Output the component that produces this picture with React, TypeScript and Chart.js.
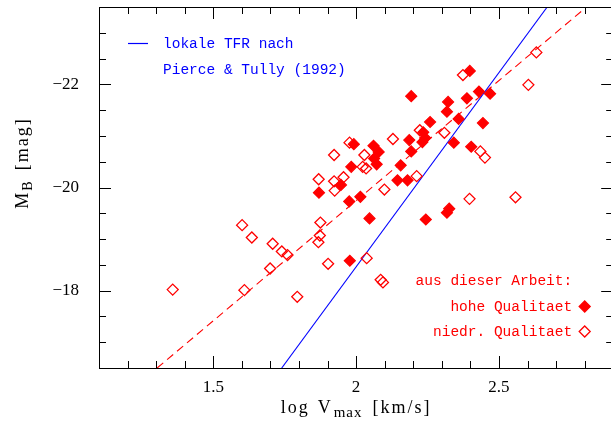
import React, { useEffect, useRef } from "react";
import { Chart, registerables } from "chart.js";

Chart.register(...registerables);

// axis limits and tick labels
const xLimits = [1.1, 2.9];
const yLimits = [-23.5, -16.5];
const xTickLabels = [1.5, 2, 2.5];
const yTickLabels = [-22, -20, -18];

// "hohe Qualitaet" (filled diamonds)
const hiX = [1.87, 1.947, 1.976, 2.015, 2.047, 1.978, 2.244, 2.326, 2.318, 1.992, 1.983, 2.061, 2.079, 2.063, 2.072, 2.156, 2.145, 2.18, 2.193, 2.186, 2.193, 2.235, 2.242, 2.232, 2.259, 2.322, 2.318, 2.342, 2.359, 2.388, 2.398, 2.43, 2.469, 2.444, 2.403];
const hiY = [-19.9, -20.05, -19.73, -19.82, -19.4, -18.58, -19.38, -19.59, -19.51, -20.84, -20.4, -20.81, -20.69, -20.56, -20.45, -20.43, -20.14, -20.14, -20.7, -20.92, -21.77, -21.07, -20.96, -20.88, -21.27, -21.66, -21.47, -20.87, -21.33, -21.73, -22.26, -21.86, -21.82, -21.25, -20.79];

// "niedr. Qualitaet" (open diamonds)
const loX = [1.358, 1.601, 1.635, 1.708, 1.74, 1.76, 1.699, 1.609, 1.794, 1.875, 1.873, 1.868, 1.902, 1.925, 2.037, 2.086, 2.094, 2.099, 1.869, 1.923, 1.956, 1.923, 1.977, 2.029, 2.023, 2.035, 2.129, 2.212, 2.223, 2.309, 2.374, 2.435, 2.451, 2.631, 2.603, 2.397, 2.558];
const loY = [-18.02, -19.27, -19.03, -18.91, -18.76, -18.69, -18.43, -18.01, -17.88, -19.32, -19.07, -18.94, -18.52, -19.94, -18.63, -18.21, -18.16, -19.96, -20.16, -20.12, -20.2, -20.63, -20.87, -20.63, -20.4, -20.37, -20.94, -20.22, -21.11, -21.06, -22.18, -20.7, -20.58, -22.62, -21.99, -19.78, -19.81];

// local TFR (Pierce & Tully 1992), solid blue
const tfrX = [1.7396, 2.669];
const tfrY = [-16.5, -23.5];

// fit to this work, dashed red
const fitX = [1.3035, 2.8];
const fitY = [-16.5, -23.47];

const RED = "#ff0000";
const BLUE = "#0000ff";
const SERIF = "'Liberation Serif', 'Times New Roman', serif";
const MONO = "'Liberation Mono', 'Courier New', monospace";

const toPts = (xs: number[], ys: number[]) => xs.map((x, i) => ({ x, y: ys[i] }));

type Part = { t: string; size: number; dy?: number; gap?: number; ls?: number };

function drawParts(ctx: CanvasRenderingContext2D, parts: Part[], cx: number, baseY: number, color: string) {
  ctx.save();
  ctx.fillStyle = color;
  ctx.textBaseline = "alphabetic";
  ctx.textAlign = "left";
  const setLs = (v: number) => {
    try { (ctx as any).letterSpacing = `${v}px`; } catch (e) {}
  };
  let total = 0;
  const widths = parts.map((p) => {
    ctx.font = `${p.size}px ${SERIF}`;
    setLs(p.ls ?? 2);
    const w = ctx.measureText(p.t).width;
    total += w + (p.gap || 0);
    return w;
  });
  let x = cx - total / 2;
  parts.forEach((p, i) => {
    ctx.font = `${p.size}px ${SERIF}`;
    setLs(p.ls ?? 2);
    ctx.fillText(p.t, x, baseY + (p.dy || 0));
    x += widths[i] + (p.gap || 0);
  });
  ctx.restore();
}

function diamond(ctx: CanvasRenderingContext2D, x: number, y: number, r: number, filled: boolean) {
  ctx.beginPath();
  ctx.moveTo(x - r, y);
  ctx.lineTo(x, y - r);
  ctx.lineTo(x + r, y);
  ctx.lineTo(x, y + r);
  ctx.closePath();
  ctx.strokeStyle = RED;
  ctx.lineWidth = 1.3;
  if (filled) {
    ctx.fillStyle = RED;
    ctx.fill();
  }
  ctx.stroke();
}

const framePlugin = {
  id: "framePlugin",
  afterDraw(chart: any) {
    const { ctx, chartArea } = chart;
    const xs = chart.scales.x;
    const ys = chart.scales.y;
    const { left, right, top, bottom } = chartArea;
    ctx.save();
    ctx.strokeStyle = "#000";
    ctx.lineWidth = 1;
    ctx.strokeRect(Math.round(left) + 0.5, Math.round(top) + 0.5, Math.round(right - left), Math.round(bottom - top));
    ctx.beginPath();
    for (let i = 11; i <= 29; i++) {
      const px = Math.round(xs.getPixelForValue(i / 10)) + 0.5;
      if (px <= left + 1 || px >= right - 1) continue;
      const len = i % 5 === 0 ? 12 : 7;
      ctx.moveTo(px, bottom);
      ctx.lineTo(px, bottom - len);
      ctx.moveTo(px, top);
      ctx.lineTo(px, top + len);
    }
    for (let k = -47; k <= -33; k++) {
      const py = Math.round(ys.getPixelForValue(k / 2)) + 0.5;
      if (py <= top + 1 || py >= bottom - 1) continue;
      const len = k % 4 === 0 ? 12 : 7;
      ctx.moveTo(left, py);
      ctx.lineTo(left + len, py);
      ctx.moveTo(right, py);
      ctx.lineTo(right - len, py);
    }
    ctx.stroke();

    // axis titles
    drawParts(ctx, [
      { t: "log", size: 18, gap: 8 },
      { t: "V", size: 18, gap: 1 },
      { t: "max", size: 15, dy: 4, gap: 10, ls: 1 },
      { t: "[km/s]", size: 18 },
    ], (left + right) / 2, 413, "#000");

    ctx.save();
    ctx.translate(28, 163);
    ctx.rotate(-Math.PI / 2);
    drawParts(ctx, [
      { t: "M", size: 18, gap: 0 },
      { t: "B", size: 14, dy: 4, gap: 10, ls: 1 },
      { t: "[mag]", size: 18 },
    ], 0, 0, "#000");
    ctx.restore();

    // blue annotation
    ctx.strokeStyle = BLUE;
    ctx.lineWidth = 1.2;
    ctx.beginPath();
    ctx.moveTo(left + 29, 43.5);
    ctx.lineTo(left + 49, 43.5);
    ctx.stroke();
    ctx.fillStyle = BLUE;
    ctx.font = `14.5px ${MONO}`;
    ctx.textBaseline = "middle";
    ctx.textAlign = "left";
    ctx.fillText("lokale TFR nach", left + 64, 44);
    ctx.fillText("Pierce & Tully (1992)", left + 64, 70);

    // red annotation
    ctx.fillStyle = RED;
    ctx.textAlign = "right";
    const tx = right - 41;
    ctx.fillText("aus dieser Arbeit:", tx, 281);
    ctx.fillText("hohe Qualitaet", tx, 307);
    ctx.fillText("niedr. Qualitaet", tx, 332);
    diamond(ctx, right - 28.5, 306.5, 5.5, true);
    diamond(ctx, right - 28.5, 331.5, 5.5, false);
    ctx.restore();
  },
};

export default function App() {
  const ref = useRef<HTMLCanvasElement | null>(null);
  useEffect(() => {
    if (!ref.current) return;
    const chart = new Chart(ref.current, {
      type: "scatter",
      data: {
        datasets: [
          {
            label: "hohe Qualitaet",
            data: toPts(hiX, hiY),
            pointStyle: "rectRot",
            pointRadius: 5.5,
            backgroundColor: RED,
            borderColor: RED,
            borderWidth: 1.2,
          },
          {
            label: "niedr. Qualitaet",
            data: toPts(loX, loY),
            pointStyle: "rectRot",
            pointRadius: 5.5,
            backgroundColor: "rgba(0,0,0,0)",
            borderColor: RED,
            borderWidth: 1.3,
          },
          {
            label: "TFR",
            data: toPts(tfrX, tfrY),
            showLine: true,
            pointRadius: 0,
            borderColor: BLUE,
            borderWidth: 1.1,
          },
          {
            label: "Fit",
            data: toPts(fitX, fitY),
            showLine: true,
            pointRadius: 0,
            borderColor: RED,
            borderWidth: 1.1,
            borderDash: [8, 5],
          },
        ],
      },
      options: {
        responsive: false,
        maintainAspectRatio: false,
        animation: false,
        events: [],
        layout: { padding: { left: 0, right: 3, top: 7, bottom: 0 } },
        plugins: { legend: { display: false }, tooltip: { enabled: false }, title: { display: false } },
        scales: {
          x: {
            type: "linear",
            min: xLimits[0],
            max: xLimits[1],
            grid: { display: false, drawTicks: false },
            border: { display: false },
            ticks: {
              color: "#000",
              font: { family: SERIF, size: 17 },
              padding: 9,
              maxRotation: 0,
              autoSkip: false,
              callback: (v: any) => String(v),
            },
            afterBuildTicks: (s: any) => {
              s.ticks = xTickLabels.map((v) => ({ value: v }));
            },
            afterFit: (s: any) => {
              s.height = 58;
              s.paddingLeft = 0;
              s.paddingRight = 0;
              s.paddingTop = 0;
              s.paddingBottom = 0;
            },
          },
          y: {
            type: "linear",
            min: yLimits[0],
            max: yLimits[1],
            reverse: true,
            grid: { display: false, drawTicks: false },
            border: { display: false },
            ticks: {
              color: "#000",
              font: { family: SERIF, size: 17 },
              padding: 20,
              autoSkip: false,
              callback: (v: any) => "\u2212" + Math.abs(Number(v)),
            },
            afterBuildTicks: (s: any) => {
              s.ticks = yTickLabels.map((v) => ({ value: v }));
            },
            afterFit: (s: any) => {
              s.width = 99;
              s.paddingLeft = 0;
              s.paddingRight = 0;
              s.paddingTop = 0;
              s.paddingBottom = 0;
            },
          },
        },
      },
      plugins: [framePlugin],
    });
    return () => chart.destroy();
  }, []);
  return (
    <div style={{ position: "fixed", left: 0, top: 0, width: 611, height: 426, overflow: "hidden", background: "#fff" }}>
      <canvas ref={ref} width={620} height={426} style={{ display: "block", width: 620, height: 426 }} />
    </div>
  );
}
